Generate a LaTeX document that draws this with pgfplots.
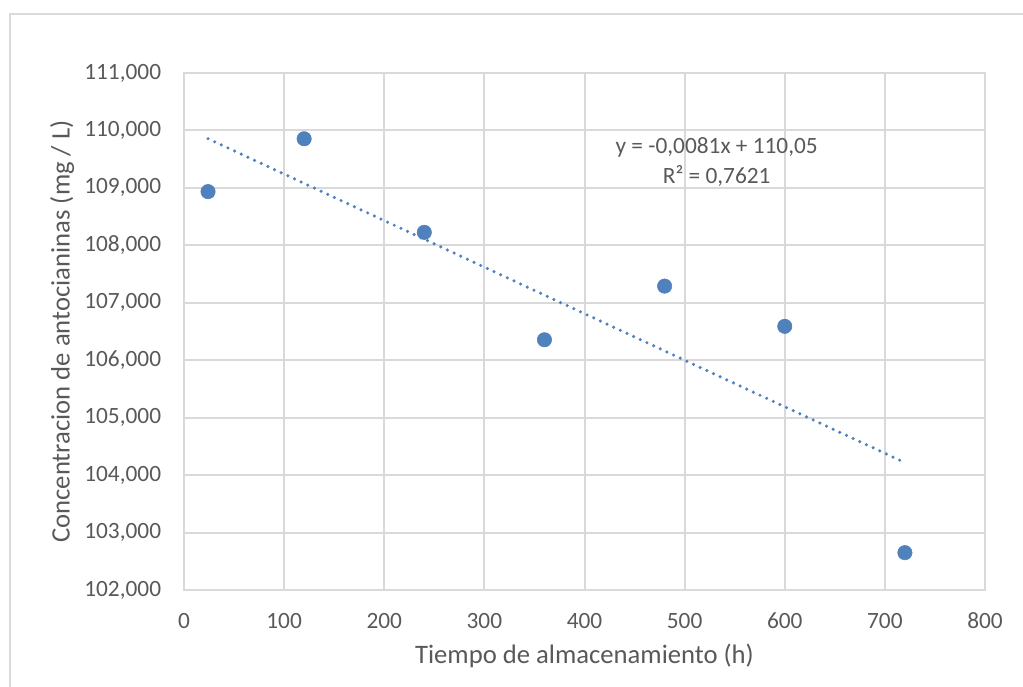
\documentclass[border=0pt]{standalone}
\usepackage{pgfplots}
\pgfplotsset{compat=1.18}
\usepackage{fontspec}
\setmainfont{Carlito}
\definecolor{ptblue}{HTML}{4F81BD}
\definecolor{gridgray}{HTML}{D9D9D9}
\definecolor{txtgray}{HTML}{595959}
\begin{document}
\begin{tikzpicture}[x=0.75pt,y=0.75pt]
  \useasboundingbox (0,0) rectangle (1023,686);
  % chart frame
  \draw[gridgray, line width=1.5pt] (10,-5) -- (10,672) -- (1030,672);
  \begin{axis}[
    at={(138pt,72pt)}, anchor=south west,
    width=600.75pt, height=387.75pt,
    scale only axis,
    xmin=0, xmax=800, ymin=102, ymax=111,
    xtick={0,100,...,800},
    ytick={102,103,...,111},
    scaled ticks=false,
    /pgf/number format/assume math mode=true,
    xticklabel={\pgfmathprintnumber[fixed,precision=0]{\tick}},
    yticklabel={\pgfmathprintnumber[fixed,fixed zerofill,precision=3,use comma]{\tick}},
    grid=major,
    major grid style={gridgray, line width=1.5pt},
    axis line style={gridgray, line width=1.5pt},
    major tick length=0pt,
    tick label style={font=\fontsize{17.5}{20}\selectfont, text=txtgray, inner sep=0pt},
    xticklabel style={anchor=north, yshift=-17pt},
    yticklabel style={anchor=east, xshift=-17pt},
    xlabel={Tiempo de almacenamiento (h)},
    ylabel={Concentracion de antocianinas (mg / L)},
    label style={font=\fontsize{20}{23}\selectfont, text=txtgray, inner sep=0pt},
    xlabel style={at={(axis description cs:0.5,0)}, anchor=base, yshift=-54.75pt},
    ylabel style={at={(axis description cs:-0.152,0.5)}, anchor=center},
    clip=false,
  ]
    % datos
    \addplot[only marks, mark=*, mark size=5.4pt,
      mark options={fill=ptblue, draw=ptblue}] coordinates {
      (24, 108.935)
      (120, 109.855)
      (240, 108.226)
      (360, 106.356)
      (480, 107.290)
      (600, 106.590)
      (720, 102.650)
    };
    % linea de tendencia (lineal)
    \addplot[no marks, ptblue, line width=2.6pt, line cap=round,
      dash pattern=on 0pt off 5.5pt] coordinates {
      (24, 109.856)
      (720, 104.218)
    };
    \node[anchor=base, text=txtgray, font=\fontsize{17.5}{20}\selectfont, inner sep=0pt]
      at (axis cs:532,109.607) {y = -0,0081x + 110,05};
    \node[anchor=base, text=txtgray, font=\fontsize{17.5}{20}\selectfont, inner sep=0pt]
      at (axis cs:532,109.085) {R² = 0,7621};
  \end{axis}
\end{tikzpicture}
\end{document}
